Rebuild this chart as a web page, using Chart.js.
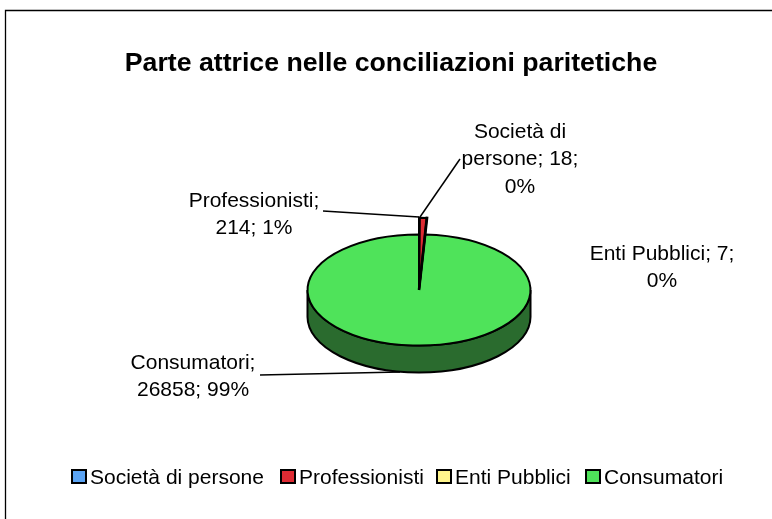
<!DOCTYPE html>
<html><head><meta charset="utf-8">
<style>html,body{margin:0;padding:0;background:#fff}canvas{display:block}</style>
<script src="https://cdn.jsdelivr.net/npm/chart.js@4"></script>
</head><body><canvas id="c" width="772" height="519"></canvas>
<script>
const categories = ["Società di persone","Professionisti","Enti Pubblici","Consumatori"];
const values = [18,214,7,26858];
const percents = ["0%","1%","0%","99%"];
const colors = ["#5BA4F4","#DE2B33","#FFF58C","#4FE35A"];
const sideColor = "#2A6B2E";
const FONT = '"Liberation Sans", Arial, sans-serif';
const pie = {cx:419, cy:290, rx:111.5, ry:55.5, depth:27, sliverScale:1.3};
const labels = [
  {lines:["Società di","persone; "+values[0]+";",percents[0]], x:520, y:132},
  {lines:[categories[1]+";",values[1]+"; "+percents[1]], x:254, y:201},
  {lines:[categories[2]+"; "+values[2]+";",percents[2]], x:662, y:254},
  {lines:[categories[3]+";",values[3]+"; "+percents[3]], x:193, y:363}
];
const legendBoxX = [72,281,437,586];

const pie3d = {
  id:'pie3d',
  beforeDatasetsDraw(chart){
    const ctx = chart.ctx, arcs = chart.getDatasetMeta(0).data;
    const {cx,cy,rx,ry,depth,sliverScale} = pie;
    ctx.save();
    ctx.beginPath();
    ctx.ellipse(cx,cy,rx,ry,0,0,Math.PI);
    ctx.lineTo(cx-rx,cy+depth);
    ctx.ellipse(cx,cy+depth,rx,ry,0,Math.PI,0,true);
    ctx.closePath();
    ctx.fillStyle = sideColor; ctx.fill();
    ctx.strokeStyle='#000'; ctx.lineWidth=2; ctx.stroke();
    const order=[3,1,0,2];
    for(const i of order){
      const a=arcs[i], R=a.outerRadius, k=i===3?1:sliverScale;
      ctx.save();
      ctx.translate(cx,cy); ctx.scale(rx/R*k,ry/R*k); ctx.translate(-a.x,-a.y);
      a.draw(ctx);
      ctx.restore();
      ctx.beginPath();
      ctx.moveTo(cx,cy);
      ctx.ellipse(cx,cy,rx*k,ry*k,0,a.startAngle,a.endAngle);
      ctx.closePath();
      ctx.lineWidth=i===2?2.6:2; ctx.strokeStyle='#000'; ctx.stroke();
    }
    ctx.restore();
    return false;
  },
  afterDraw(chart){
    const ctx=chart.ctx;
    ctx.save();
    ctx.strokeStyle='#000'; ctx.lineWidth=1.3;
    ctx.beginPath(); ctx.moveTo(5.5,519); ctx.lineTo(5.5,10.5); ctx.lineTo(772,10.5); ctx.stroke();
    ctx.lineWidth=1.5;
    const seg=[[460,159,420,217],[323,211,419,217],[260,375,400,372]];
    for(const s of seg){ctx.beginPath();ctx.moveTo(s[0],s[1]);ctx.lineTo(s[2],s[3]);ctx.stroke();}
    ctx.fillStyle='#000'; ctx.font='21px '+FONT; ctx.textAlign='center'; ctx.textBaseline='middle';
    for(const l of labels){l.lines.forEach((t,i)=>ctx.fillText(t,l.x,l.y+i*27.5));}
    ctx.textAlign='left';
    categories.forEach((t,i)=>{
      const x=legendBoxX[i];
      ctx.fillStyle=colors[i]; ctx.fillRect(x,470,14,13);
      ctx.strokeStyle='#000'; ctx.lineWidth=2; ctx.strokeRect(x,470,14,13);
      ctx.fillStyle='#000'; ctx.fillText(t,x+18,478);
    });
    ctx.restore();
  }
};

new Chart(document.getElementById('c'),{
  type:'pie',
  data:{labels:categories,datasets:[{data:values,backgroundColor:colors,borderWidth:0}]},
  plugins:[pie3d],
  options:{
    responsive:false,animation:false,
    layout:{padding:{left:10,right:0,top:48,bottom:10}},
    plugins:{
      legend:{display:false},tooltip:{enabled:false},
      title:{display:true,text:"Parte attrice nelle conciliazioni paritetiche",color:'#000',
        font:{family:FONT,size:26.7,weight:'bold'},padding:{top:0,bottom:0}}
    }
  }
});
</script></body></html>
